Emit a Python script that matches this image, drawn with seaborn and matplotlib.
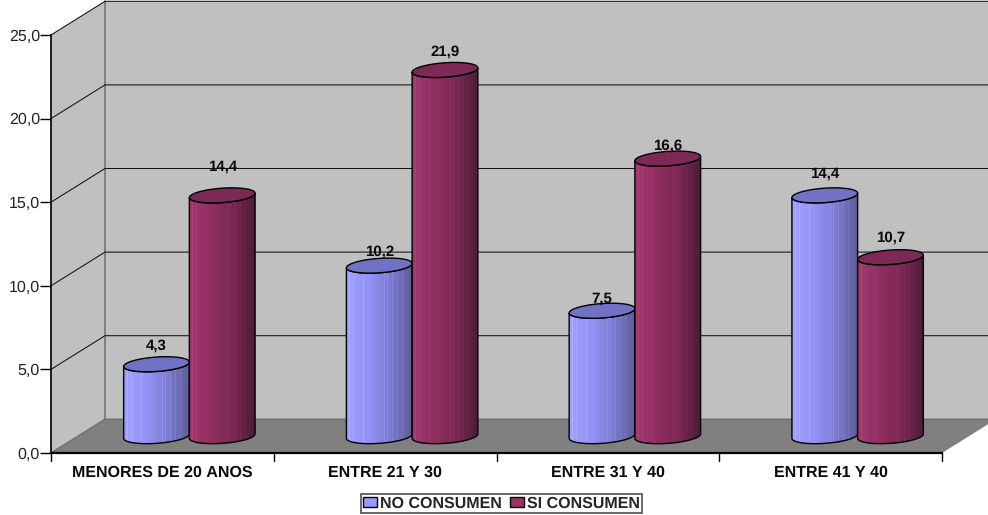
import numpy as np
import pandas as pd
import matplotlib
matplotlib.use("Agg")
import matplotlib.pyplot as plt
from matplotlib.patches import Polygon, PathPatch, Patch
from matplotlib.path import Path
from matplotlib.colors import LinearSegmentedColormap
import seaborn as sns

categories = ["MENORES DE 20 ANOS", "ENTRE 21 Y 30", "ENTRE 31 Y 40", "ENTRE 41 Y 40"]
no_consumen = [4.3, 10.2, 7.5, 14.4]
si_consumen = [14.4, 21.9, 16.6, 10.7]
series_names = ["NO CONSUMEN", "SI CONSUMEN"]
y_ticks = [0, 5, 10, 15, 20, 25]
y_tick_labels = ["0,0", "5,0", "10,0", "15,0", "20,0", "25,0"]

W, H = 988, 515
L, R, B, T = 51.0, 942.0, 453.0, 35.0   # front plane in px
DX, DY = 54.0, 33.7
label_lift = [[18.5, 13.5, 12, 22], [29, 18.5, 13, 19.5]]

sns.set_theme(style="white")
plt.rcParams["font.family"] = ["Liberation Sans", "DejaVu Sans"]
plt.rcParams["text.hinting"] = "no_hinting"
plt.rcParams["text.hinting_factor"] = 1

fig = plt.figure(figsize=(W / 100, H / 100), dpi=100, facecolor="white")

def px_axes(x0, x1, ytop, ybot):
    return fig.add_axes([x0 / W, 1 - ybot / H, (x1 - x0) / W, (ybot - ytop) / H])

# furniture
bg = fig.add_axes([0, 0, 1, 1])
bg.set_xlim(0, W); bg.set_ylim(H, 0); bg.axis("off")
unit = (B - T) / 25
bg.add_patch(Polygon([(L, B), (L + DX, B - DY), (L + DX, T - DY), (L, T)], fc="#C0C0C0", ec="none"))
bg.add_patch(Polygon([(L + DX, B - DY), (R + DX + 5, B - DY), (R + DX + 5, T - DY), (L + DX, T - DY)], fc="#C0C0C0", ec="none"))
bg.add_patch(Polygon([(L, B), (R, B), (R + DX, B - DY), (L + DX, B - DY)], fc="#808080", ec="none"))
bg.plot([L, L + DX, R + DX], [B, B - DY, B - DY], color="#707070", lw=1.1)
bg.plot([L + DX, L + DX], [B - DY, T - DY], color="#707070", lw=1.1)
for v in y_ticks[1:]:
    y = B - v * unit
    bg.plot([L, L + DX, R + DX], [y, y - DY, y - DY], color="#111111", lw=0.75)

# front axes: axis lines, ticks, category labels
ax = px_axes(L, R, T, B)
ax.patch.set_alpha(0)
ax.set_ylim(0, 25)
plot_df = pd.DataFrame({"cat": categories * 2,
                        "serie": [series_names[0]] * 4 + [series_names[1]] * 4,
                        "valor": no_consumen + si_consumen})
ax.set_xlim(-0.5, 3.5)
ax.set_xticks(np.arange(4))
ax.set_xticklabels(categories, fontsize=11.4, fontweight="bold", color="#0A0A0A")
ax.set_yticks(y_ticks)
ax.set_yticklabels(y_tick_labels, fontsize=11.8, color="#222222")
ax.tick_params(axis="x", length=0, pad=9)
ax.tick_params(axis="y", length=8, width=1, color="black", left=True, pad=0)
for x in np.arange(-0.5, 3.6, 1):
    ax.plot([x, x], [0, -8 / unit], color="black", lw=1, clip_on=False)
for s in ("top", "right"):
    ax.spines[s].set_visible(False)
ax.spines["left"].set_color("black"); ax.spines["left"].set_linewidth(1.2)
ax.spines["bottom"].set_color("black"); ax.spines["bottom"].set_linewidth(1.6)
ax.set_xlabel(""); ax.set_ylabel("")

# bar axes, half way into the depth
bar_ax = px_axes(L + DX / 2, R + DX / 2, T - DY / 2, B - DY / 2)
bar_ax.patch.set_alpha(0)
bar_ax.axis("off")
palette = {series_names[0]: "#9999FF", series_names[1]: "#993366"}
sns.barplot(data=plot_df, x="cat", y="valor", hue="serie", order=categories, hue_order=series_names,
            palette=palette, width=0.59, gap=0, dodge=True, saturation=1, legend=False, ax=bar_ax,
            errorbar=None)
bar_ax.set_xlim(-0.5, 3.5); bar_ax.set_ylim(0, 25)

cyl = {
    0: ("#A0A0FF", "#9494F6", "#7C7CD0", "#5E5E98", "#7272C4"),
    1: ("#A03A6E", "#8F2F60", "#7A2852", "#4E1C38", "#7C2A55"),
}
stripe_at = [0.06, 0.12, 0.27, 0.58, 0.63, 0.71, 0.78, 0.86]
ry = 7.2 / unit
tilt = 2.2 / unit
nb = len(categories)
patches = list(bar_ax.patches)
for i, p in enumerate(patches):
    s = i // nb
    j = i % nb
    x0, w, top = p.get_x(), p.get_width(), p.get_height()
    p.set_visible(False)
    cx = x0 + w / 2
    t = np.linspace(np.pi, 2 * np.pi, 50)
    ex = cx + w / 2 * np.cos(t)
    ey = ry * np.sin(t) + tilt * np.cos(t)
    xs = np.r_[ex, ex[::-1], ex[0]]
    ys = np.r_[ey, top + ey[::-1], ey[0]]
    z = 3 + i * 0.1
    cmap = LinearSegmentedColormap.from_list("c", cyl[s][:4])
    grad = cmap(np.linspace(0, 1, 66))[None, :, :].copy()
    for st in stripe_at:
        k = int(st * 66)
        grad[0, k, :3] = np.minimum(grad[0, k, :3] * 1.10, 1)
    im = bar_ax.imshow(grad, extent=[x0, x0 + w, -ry - tilt, top + ry + tilt], aspect="auto", zorder=z,
                       interpolation="bilinear")
    clipper = PathPatch(Path(np.column_stack([xs, ys])), transform=bar_ax.transData, fc="none", ec="none")
    bar_ax.add_patch(clipper)
    im.set_clip_path(clipper)
    im.set_clip_box(fig.bbox)
    bar_ax.add_patch(PathPatch(Path(np.column_stack([xs, ys])), fc="none", ec="black", lw=1.0,
                               zorder=z + 0.01, clip_on=False))
    tt = np.linspace(0, 2 * np.pi, 100)
    cap = np.column_stack([cx + w / 2 * np.cos(tt), top + ry * np.sin(tt) + tilt * np.cos(tt)])
    bar_ax.add_patch(Polygon(cap, fc=cyl[s][4], ec="black", lw=1.0, zorder=z + 0.02, clip_on=False))
    bar_ax.text(cx, top + label_lift[s][j] / unit, f"{top:.1f}".replace(".", ","), ha="center", va="center",
                fontsize=11, fontweight="bold", color="#0A0A0A", zorder=6)
bar_ax.set_xlim(-0.5, 3.5); bar_ax.set_ylim(0, 25)
bar_ax.set_zorder(3)

handles = [Patch(fc="#9999FF", ec="black", lw=1.0), Patch(fc="#993366", ec="black", lw=1.0)]
leg = fig.legend(handles, series_names, loc="center", bbox_to_anchor=(501.5 / W, 1 - 503.5 / H), ncol=2,
                 frameon=True, fancybox=False, edgecolor="#222222", facecolor="white",
                 prop={"weight": "bold", "size": 11.3}, handlelength=0.85, handleheight=0.6, handletextpad=0.2,
                 columnspacing=0.55, borderpad=0.12, borderaxespad=0)
leg.get_frame().set_linewidth(1.2)

fig.savefig("out.png", dpi=100)
